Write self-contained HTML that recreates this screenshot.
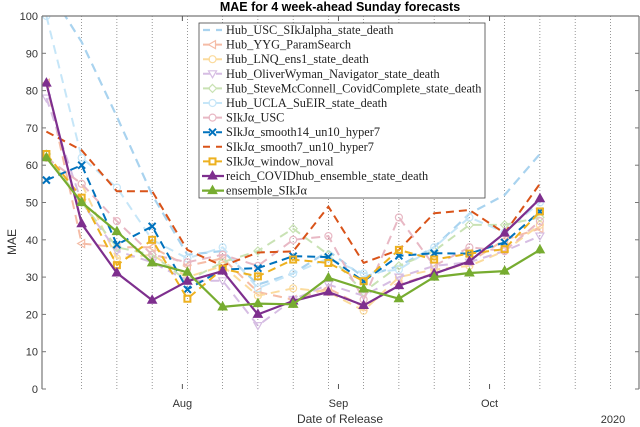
<!DOCTYPE html>
<html><head><meta charset="utf-8"><style>
body{margin:0;background:#fff}
svg{display:block}
</style></head><body>
<svg id="chart" width="640" height="427" viewBox="0 0 640 427" xmlns="http://www.w3.org/2000/svg">
<defs><clipPath id="plotclip"><rect x="42" y="16" width="597" height="373"/></clipPath></defs>
<text x="340" y="11" text-anchor="middle" font-family="Liberation Sans, sans-serif" font-weight="bold" font-size="12.5">MAE for 4 week-ahead Sunday forecasts</text>
<g id="grid"></g>
<g id="series" clip-path="url(#plotclip)"></g>
<g id="axes"></g>
<g id="legend"></g>
</svg>
<script>
const weeks=[0,1,2,3,4,5,6,7,8,9,10,11,12,13,14];
const yTicks=[0,10,20,30,40,50,60,70,80,90,100];
const monthLabels=["Aug","Sep","Oct"];
const monthDays=[20,51,81]; // days after first grid Sunday (Jul 12)
const usc=[108,93,73,52,36,37,28,31,37,30,33,38,47,52,63];
const yyg=[82,39,38,38,33,35,26,24,27,22,28,31,34,40,43];
const lnq=[62,55,35,36,30,33,25,27,26,21,30,32,33,37,44];
const oliver=[78,50,37,34,29,29,17,24,28,25,30,33,34,37,41];
const steve=[63,50,38,36,29,34,37,43,36,26,33,37,44,44,46];
const ucla=[100,62,54,40,35,38,27,31,35,31,32,38,46,42,50];
const sikjUsc=[62,55,45,36,34,36,33,40,41,24,46,33,38,37,45];
const smooth14=[56,60,38.7,43.6,26.7,32,32.4,35.6,35.4,28.9,35.7,36.4,36.3,39.3,47.6];
const smooth7=[69,64,53,53,37.3,33,36.6,36.9,48.9,33.8,37.3,47.1,48,41.8,55];
const windowNovel=[63,51.3,33.2,40,24.2,32.2,30.2,34.7,33.8,28.9,37.3,34.7,36.3,37.5,47.6];
const reich=[82,44.3,31.1,23.8,28.9,31.6,20,23.6,26,22.4,27.7,30.9,34.2,41.8,51];
const ensemble=[62,50,42.2,33.8,31.3,22,22.9,22.7,29.8,26.8,24.2,30,31.1,31.6,37.3];

const NS="http://www.w3.org/2000/svg";
const X0=46.4, DX=35.25;
const xw=i=>X0+DX*i;
const xd=d=>X0+DX+d*DX/7;
const y=v=>389-3.73*v;
function mk(tag,attrs,parent){const e=document.createElementNS(NS,tag);for(const k in attrs)e.setAttribute(k,attrs[k]);parent.appendChild(e);return e;}
const grid=document.getElementById('grid'),axes=document.getElementById('axes'),ser=document.getElementById('series'),leg=document.getElementById('legend');

for(let k=1;k<=16;k++){
  const l=mk('line',{x1:xw(k),x2:xw(k),y1:16,y2:389,stroke:'#555','stroke-width':0.6,'stroke-dasharray':'1,2'},grid);
  
  
}
const ax=mk('path',{d:'M42,16 V389 M639,16 V389 M42,16 H639',stroke:'#777','stroke-width':1.2,fill:'none'},axes);


yTicks.forEach(t=>{
  mk('line',{x1:42,x2:46,y1:y(t),y2:y(t),stroke:'#777'},axes);
  mk('line',{x1:635,x2:639,y1:y(t),y2:y(t),stroke:'#777'},axes);
  const tx=mk('text',{x:38,y:y(t)+4,'text-anchor':'end','font-family':'Liberation Sans, sans-serif','font-size':11,fill:'#333'},axes);
  tx.textContent=t;
  
  
});
monthLabels.forEach((m,i)=>{
  const xx=xd(monthDays[i]);
  mk('line',{x1:xx,x2:xx,y1:384,y2:389,stroke:'#555'},axes);
  mk('line',{x1:xx,x2:xx,y1:16,y2:21,stroke:'#555'},axes);
  const tx=mk('text',{x:xx,y:407,'text-anchor':'middle','font-family':'Liberation Sans, sans-serif','font-size':11,fill:'#333'},axes);
  tx.textContent=m;
  
  
});
let t=mk('text',{x:613,y:423,'text-anchor':'middle','font-family':'Liberation Sans, sans-serif','font-size':11,fill:'#333'},axes);t.textContent='2020';


t=mk('text',{x:340,y:423,'text-anchor':'middle','font-family':'Liberation Sans, sans-serif','font-size':12,fill:'#333'},axes);t.textContent='Date of Release';


t=mk('text',{x:16,y:242,'text-anchor':'middle','font-family':'Liberation Sans, sans-serif','font-size':12,fill:'#333',transform:'rotate(-90 16 242)'},axes);t.textContent='MAE';



function marker(type,cx,cy,c,g,light){
  const sw=light?1.2:1.5, r=3.5;
  if(type==='circle')mk('circle',{cx,cy,r,fill:'none',stroke:c,'stroke-width':sw},g);
  else if(type==='square')mk('rect',{x:cx-3,y:cy-3,width:6,height:6,fill:'none',stroke:c,'stroke-width':2},g);
  else if(type==='x')mk('path',{d:`M${cx-3.5},${cy-3.5}L${cx+3.5},${cy+3.5}M${cx-3.5},${cy+3.5}L${cx+3.5},${cy-3.5}`,stroke:c,'stroke-width':2},g);
  else if(type==='tri')mk('path',{d:`M${cx},${cy-5}L${cx+4.5},${cy+3}L${cx-4.5},${cy+3}Z`,fill:c,stroke:c},g);
  else if(type==='tril')mk('path',{d:`M${cx-4},${cy}L${cx+3},${cy-4}L${cx+3},${cy+4}Z`,fill:'none',stroke:c,'stroke-width':sw},g);
  else if(type==='trid')mk('path',{d:`M${cx},${cy+4}L${cx+4},${cy-3}L${cx-4},${cy-3}Z`,fill:'none',stroke:c,'stroke-width':sw},g);
  else if(type==='diamond')mk('path',{d:`M${cx},${cy-4}L${cx+4},${cy}L${cx},${cy+4}L${cx-4},${cy}Z`,fill:'none',stroke:c,'stroke-width':sw},g);
}
const defs=[
 {name:'Hub_USC_SIkJalpha_state_death',data:usc,c:'#a9d3ef',dash:'9,6',m:null,w:2.2,light:1,key:'usc'},
 {name:'Hub_YYG_ParamSearch',data:yyg,c:'#f5bca6',dash:'9,6',m:'tril',w:2,light:1,key:'yyg'},
 {name:'Hub_LNQ_ens1_state_death',data:lnq,c:'#fbdb9d',dash:'9,6',m:'circle',w:2,light:1,key:'lnq'},
 {name:'Hub_OliverWyman_Navigator_state_death',data:oliver,c:'#d6bde3',dash:'9,6',m:'trid',w:2,light:1,key:'oliver'},
 {name:'Hub_SteveMcConnell_CovidComplete_state_death',data:steve,c:'#c9e2b4',dash:'9,6',m:'diamond',w:2,light:1,key:'steve'},
 {name:'Hub_UCLA_SuEIR_state_death',data:ucla,c:'#c6e6f8',dash:'9,6',m:'circle',w:2,light:1,key:'ucla'},
 {name:'SIkJα_USC',data:sikjUsc,c:'#e8b8c4',dash:'9,6',m:'circle',w:2,light:1,key:'sikj-usc'},
 {name:'SIkJα_smooth14_un10_hyper7',data:smooth14,c:'#0072bd',dash:'8,5',m:'x',w:2,key:'smooth14'},
 {name:'SIkJα_smooth7_un10_hyper7',data:smooth7,c:'#d95319',dash:'8,5',m:null,w:2,key:'smooth7'},
 {name:'SIkJα_window_noval',data:windowNovel,c:'#edb120',dash:'8,5',m:'square',w:2,key:'window-novel'},
 {name:'reich_COVIDhub_ensemble_state_death',data:reich,c:'#7e2f8e',dash:null,m:'tri',w:2.2,key:'reich'},
 {name:'ensemble_SIkJα',data:ensemble,c:'#77ac30',dash:null,m:'tri',w:2.2,key:'ensemble'}
];
defs.forEach(s=>{
  const g=mk('g',{},ser);
  
  
  const pts=s.data.map((v,i)=>xw(weeks[i]).toFixed(1)+','+y(v).toFixed(1)).join(' ');
  const pl=mk('polyline',{points:pts,fill:'none',stroke:s.c,'stroke-width':s.w,'stroke-linejoin':'round'},g);
  if(s.dash)pl.setAttribute('stroke-dasharray',s.dash);
  if(s.m)s.data.forEach((v,i)=>marker(s.m,xw(weeks[i]),y(v),s.c,g,s.light));
});
const lb=mk('rect',{x:199,y:23,width:286,height:175,fill:'#fff',stroke:'#444','stroke-width':0.8},leg);


defs.forEach((s,i)=>{
  const yy=30+i*14.6;
  const g=mk('g',{},leg);
  
  
  const long=s.key==='reich'||s.key==='ensemble';
  const l=mk('line',{x1:long?202:203,x2:long?224:222,y1:yy,y2:yy,stroke:s.c,'stroke-width':s.w},g);
  if(s.dash)l.setAttribute('stroke-dasharray','7,6');
  if(s.m)marker(s.m,212.5,yy,s.c,g,s.light);
  const tx=mk('text',{x:226,y:yy+4,'font-family':'Liberation Serif, serif','font-size':12.3,fill:'#222'},g);
  tx.textContent=s.name;
});
</script>
</body></html>
